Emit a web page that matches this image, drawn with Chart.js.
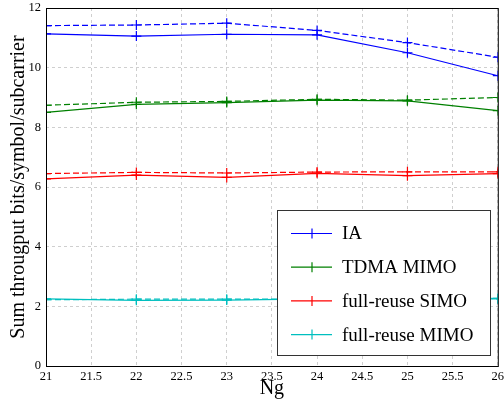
<!DOCTYPE html>
<html>
<head>
<meta charset="utf-8">
<script src="https://cdn.jsdelivr.net/npm/chart.js@4"></script>
<style>
  html, body { margin: 0; padding: 0; background: #fff; }
  #wrap { width: 504px; height: 401px; }
</style>
</head>
<body>
<div id="wrap"><canvas id="chart" width="504" height="401"></canvas></div>
<script>
// valeurs (Ng en abscisse)
const ngValues = [21, 22, 23, 24, 25, 26];

const iaSolid = [11.13, 11.06, 11.12, 11.10, 10.50, 9.73];
const iaDashed = [11.41, 11.43, 11.49, 11.25, 10.84, 10.35];
const tdmaSolid = [8.50, 8.77, 8.83, 8.91, 8.89, 8.56];
const tdmaDashed = [8.74, 8.84, 8.87, 8.94, 8.91, 9.00];
const simoSolid = [6.27, 6.40, 6.32, 6.46, 6.38, 6.45];
const simoDashed = [6.45, 6.49, 6.47, 6.50, 6.51, 6.51];
const mimoSolid = [2.25, 2.20, 2.21, 2.25, 2.25, 2.27];
const mimoDashed = [2.22, 2.24, 2.24, 2.24, 2.24, 2.25];

const legendLabels = ['IA', 'TDMA MIMO', 'full-reuse SIMO', 'full-reuse MIMO'];
const seriesColors = ['#0000ff', '#008000', '#ff0000', '#00bfbf'];

const serif = "'Liberation Serif', 'DejaVu Serif', serif";

function toPoints(vals) {
    return vals.map((v, i) => ({ x: ngValues[i], y: v }));
}

function makeSet(label, vals, color, dashed) {
    return {
        label: label,
        data: toPoints(vals),
        borderColor: color,
        backgroundColor: color,
        borderWidth: 1.2,
        borderDash: dashed ? [6, 3] : [],
        pointStyle: 'cross',
        pointRadius: 5,
        pointBorderWidth: 1.2,
        pointHoverRadius: 5,
        tension: 0,
        fill: false
    };
}

const datasets = [
    makeSet(legendLabels[0], iaSolid, seriesColors[0], false),
    makeSet(legendLabels[0] + ' (2)', iaDashed, seriesColors[0], true),
    makeSet(legendLabels[1], tdmaSolid, seriesColors[1], false),
    makeSet(legendLabels[1] + ' (2)', tdmaDashed, seriesColors[1], true),
    makeSet(legendLabels[2], simoSolid, seriesColors[2], false),
    makeSet(legendLabels[2] + ' (2)', simoDashed, seriesColors[2], true),
    makeSet(legendLabels[3], mimoSolid, seriesColors[3], false),
    makeSet(legendLabels[3] + ' (2)', mimoDashed, seriesColors[3], true)
];

// cadre noir + légende dans la zone du graphique
const framePlugin = {
    id: 'frameLegend',
    afterDraw(chart) {
        const ctx = chart.ctx;
        const a = chart.chartArea;
        ctx.save();
        ctx.strokeStyle = '#000';
        ctx.lineWidth = 1;
        ctx.strokeRect(a.left + 0.5, a.top + 0.5, a.right - a.left, a.bottom - a.top);

        // boîte de légende
        const bx = 277, by = 210, bw = 213, bh = 145;
        ctx.fillStyle = '#fff';
        ctx.fillRect(bx, by, bw, bh);
        ctx.strokeStyle = '#333';
        ctx.strokeRect(bx + 0.5, by + 0.5, bw, bh);

        ctx.font = '19px ' + serif;
        ctx.textBaseline = 'middle';
        legendLabels.forEach((lab, i) => {
            const y = 233.5 + i * 33.7;
            ctx.strokeStyle = seriesColors[i];
            ctx.lineWidth = 1.2;
            ctx.beginPath();
            ctx.moveTo(291, y);
            ctx.lineTo(332, y);
            ctx.moveTo(312, y - 5);
            ctx.lineTo(312, y + 5);
            ctx.stroke();
            ctx.fillStyle = '#000';
            ctx.fillText(lab, 342, y + 1);
        });
        ctx.restore();
    }
};

new Chart(document.getElementById('chart').getContext('2d'), {
    type: 'line',
    data: { datasets: datasets },
    options: {
        responsive: false,
        animation: false,
        events: [],
        layout: { padding: { top: 8, right: 4, left: 0, bottom: 0 } },
        plugins: {
            legend: { display: false },
            tooltip: { enabled: false }
        },
        scales: {
            x: {
                type: 'linear',
                min: 21,
                max: 26,
                ticks: {
                    stepSize: 0.5,
                    color: '#000',
                    padding: 3,
                    font: { family: serif, size: 12.5 },
                    callback: v => String(v)
                },
                grid: { color: '#cfcfcf', drawTicks: false, lineWidth: 1 },
                border: { display: false, dash: [3, 3] },
                title: {
                    display: true,
                    text: 'Ng',
                    color: '#000',
                    padding: { top: -3, bottom: 0 },
                    font: { family: serif, size: 20 }
                },
                afterFit(s) {
                    s.height = 35;
                    s.paddingLeft = 0;
                    s.paddingRight = 0;
                }
            },
            y: {
                type: 'linear',
                min: 0,
                max: 12,
                ticks: {
                    stepSize: 2,
                    color: '#000',
                    padding: 5,
                    font: { family: serif, size: 12.5 },
                    callback: v => String(v)
                },
                grid: { color: '#cfcfcf', drawTicks: false, lineWidth: 1 },
                border: { display: false, dash: [3, 3] },
                title: {
                    display: true,
                    text: 'Sum througput bits/symbol/subcarrier',
                    color: '#000',
                    padding: { top: 7, bottom: 0 },
                    font: { family: serif, size: 20 }
                },
                afterFit(s) {
                    s.width = 46;
                    s.paddingTop = 0;
                    s.paddingBottom = 0;
                }
            }
        }
    },
    plugins: [framePlugin]
});
</script>
</body>
</html>
